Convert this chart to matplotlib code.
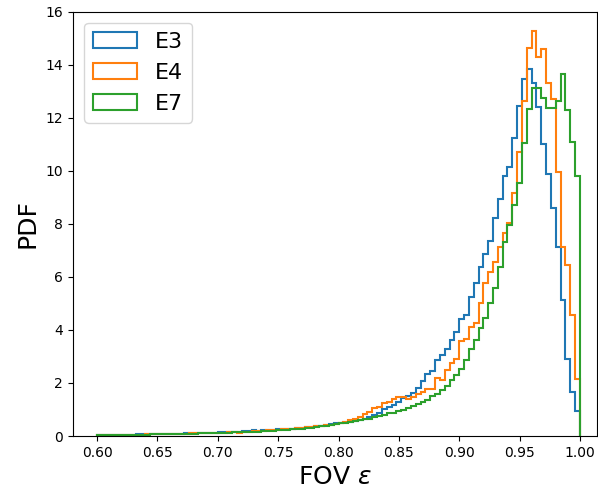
import numpy as np
import matplotlib
matplotlib.use("Agg")
import matplotlib.pyplot as plt

# histogram bins for FOV epsilon (100 bins between 0.6 and 1.0)
bin_lo = 0.6
bin_hi = 1.0
n_bins = 100

labels = ["E3", "E4", "E7"]

# PDF values per bin
pdf_e3 = [0.03, 0.03, 0.04, 0.04, 0.04, 0.05, 0.05, 0.05, 0.06, 0.06,
          0.06, 0.07, 0.07, 0.07, 0.08, 0.08, 0.09, 0.09, 0.10, 0.10,
          0.11, 0.11, 0.12, 0.12, 0.13, 0.14, 0.14, 0.15, 0.16, 0.17,
          0.18, 0.19, 0.21, 0.20, 0.22, 0.24, 0.23, 0.25, 0.27, 0.26,
          0.28, 0.30, 0.31, 0.33, 0.35, 0.36, 0.38, 0.42, 0.45, 0.48,
          0.50, 0.52, 0.54, 0.57, 0.60, 0.66, 0.70, 0.79, 0.86, 1.01,
          1.11, 1.17, 1.30, 1.42, 1.51, 1.64, 1.80, 2.09, 2.35, 2.45,
          2.88, 3.07, 3.29, 3.62, 3.94, 4.42, 4.57, 5.23, 5.76, 6.37,
          6.85, 7.36, 8.24, 8.93, 9.79, 10.16, 11.23, 12.45, 13.48, 13.84,
          13.31, 12.40, 11.02, 9.89, 8.60, 7.14, 5.13, 2.92, 1.67, 0.94]

pdf_e4 = [0.02, 0.03, 0.03, 0.03, 0.04, 0.04, 0.04, 0.05, 0.05, 0.05,
          0.06, 0.06, 0.06, 0.07, 0.07, 0.08, 0.08, 0.09, 0.09, 0.10,
          0.10, 0.11, 0.11, 0.12, 0.12, 0.13, 0.13, 0.14, 0.15, 0.12,
          0.16, 0.17, 0.18, 0.19, 0.20, 0.22, 0.21, 0.23, 0.25, 0.26,
          0.27, 0.29, 0.31, 0.33, 0.35, 0.37, 0.38, 0.40, 0.42, 0.45,
          0.48, 0.54, 0.60, 0.66, 0.72, 0.83, 0.92, 1.05, 1.11, 1.24,
          1.30, 1.38, 1.46, 1.46, 1.41, 1.48, 1.57, 1.67, 1.77, 1.76,
          2.20, 2.10, 2.48, 2.76, 2.90, 3.60, 3.66, 4.12, 4.28, 5.03,
          5.76, 6.20, 6.58, 7.14, 7.65, 8.05, 9.16, 10.73, 12.62, 14.63,
          15.28, 14.31, 14.60, 13.31, 12.72, 9.97, 7.14, 6.45, 4.57, 2.15]

pdf_e7 = [0.02, 0.03, 0.03, 0.03, 0.04, 0.04, 0.04, 0.05, 0.05, 0.05,
          0.05, 0.06, 0.06, 0.06, 0.07, 0.07, 0.08, 0.08, 0.08, 0.09,
          0.09, 0.10, 0.10, 0.11, 0.11, 0.12, 0.12, 0.13, 0.14, 0.14,
          0.15, 0.16, 0.17, 0.17, 0.18, 0.19, 0.20, 0.21, 0.22, 0.23,
          0.25, 0.26, 0.28, 0.30, 0.32, 0.34, 0.36, 0.38, 0.42, 0.45,
          0.48, 0.50, 0.54, 0.56, 0.60, 0.63, 0.65, 0.70, 0.75, 0.79,
          0.86, 0.88, 0.94, 0.98, 1.07, 1.13, 1.21, 1.30, 1.36, 1.52,
          1.58, 1.74, 1.89, 2.11, 2.30, 2.53, 2.87, 3.28, 3.62, 4.06,
          4.44, 5.03, 5.57, 6.37, 7.33, 7.96, 8.72, 9.53, 11.04, 12.33,
          13.12, 13.12, 12.74, 12.36, 12.36, 12.62, 13.65, 12.30, 11.07, 9.79]

edges = np.linspace(bin_lo, bin_hi, n_bins + 1)
centers = 0.5 * (edges[:-1] + edges[1:])

fig = plt.figure(figsize=(5.98, 4.91), dpi=100)
ax = fig.add_axes([0.122, 0.112, 0.876, 0.864])

for vals, lab in zip([pdf_e3, pdf_e4, pdf_e7], labels):
    ax.hist(centers, bins=edges, weights=vals, histtype="step", linewidth=1.5, label=lab)

ax.set_xlim(0.58, 1.014)
ax.set_ylim(0, 16)
ax.set_xticks(np.arange(0.60, 1.001, 0.05))
ax.set_xticklabels([f"{t:.2f}" for t in np.arange(0.60, 1.001, 0.05)])
ax.set_yticks(range(0, 17, 2))
ax.set_xlabel(r"FOV $\varepsilon$", fontsize=18)
ax.set_ylabel("PDF", fontsize=18)
ax.legend(loc="upper left", fontsize=16)

fig.savefig("out.png", dpi=100)
